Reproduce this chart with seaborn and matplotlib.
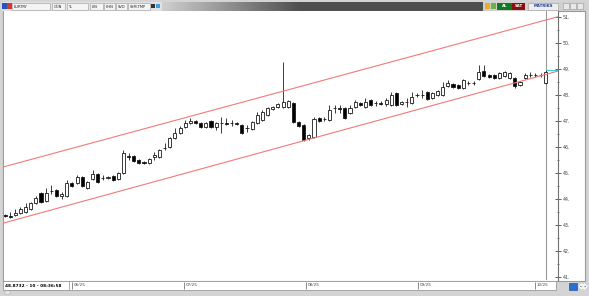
import matplotlib
matplotlib.use("Agg")
import matplotlib.pyplot as plt
from matplotlib.patches import Rectangle, Polygon
import numpy as np
import pandas as pd
import seaborn as sns

sns.set_style("white")
plt.rcParams['font.family'] = ['DejaVu Sans']

# ---------------- data (EURTRY daily candles) ----------------
opens = [43.38, 43.35, 43.38, 43.46, 43.50, 43.62, 43.85, 44.23, 43.92, 44.31,
         44.35, 44.12, 44.12, 44.62, 44.62, 44.85, 44.42, 44.77, 44.96, 44.81,
         44.81, 44.88, 44.77, 45.00, 45.62, 45.65, 45.50, 45.42, 45.38, 45.62,
         45.62, 45.96, 46.00, 46.35, 46.54, 46.77, 46.92, 47.00, 46.92, 46.77,
         47.00, 46.77, 46.92, 46.92, 46.92, 46.92, 46.85, 46.73, 46.69, 46.92,
         47.04, 47.23, 47.46, 47.54, 47.54, 47.54, 47.69, 46.96, 46.85, 46.35,
         46.38, 47.12, 47.08, 47.04, 47.50, 47.50, 47.50, 47.31, 47.54, 47.69,
         47.54, 47.81, 47.69, 47.69, 47.65, 47.62, 48.08, 47.65, 47.73, 47.69,
         48.00, 48.00, 48.12, 47.88, 48.00, 48.00, 48.35, 48.42, 48.38, 48.27,
         48.46, 48.46, 48.62, 48.92, 48.77, 48.77, 48.65, 48.73, 48.65, 48.65,
         48.38, 48.65, 48.77, 48.77, 48.77, 48.46]
closes = [43.35, 43.31, 43.46, 43.62, 43.69, 43.85, 44.04, 43.88, 44.23, 44.31,
          44.12, 44.19, 44.62, 44.50, 44.85, 44.50, 44.65, 44.96, 44.65, 44.81,
          44.85, 44.73, 45.00, 45.77, 45.62, 45.46, 45.38, 45.38, 45.54, 45.69,
          45.88, 45.96, 46.35, 46.54, 46.73, 46.92, 47.00, 46.92, 46.77, 46.92,
          46.77, 46.92, 46.92, 46.88, 46.92, 46.88, 46.54, 46.73, 46.96, 47.23,
          47.35, 47.50, 47.54, 47.65, 47.73, 47.77, 46.96, 46.81, 46.27, 46.46,
          47.08, 47.00, 47.08, 47.42, 47.50, 47.46, 47.12, 47.50, 47.73, 47.62,
          47.73, 47.62, 47.69, 47.65, 47.81, 48.00, 47.62, 47.73, 47.73, 47.92,
          48.00, 48.00, 47.85, 48.08, 48.15, 48.31, 48.46, 48.31, 48.27, 48.58,
          48.46, 48.46, 48.88, 48.73, 48.69, 48.65, 48.85, 48.88, 48.85, 48.35,
          48.50, 48.77, 48.77, 48.77, 48.77, 48.87]
highs = [43.42, 43.50, 43.62, 43.69, 43.85, 43.88, 44.12, 44.27, 44.42, 44.54,
         44.38, 44.27, 44.73, 44.65, 44.92, 44.88, 44.69, 45.12, 45.00, 44.92,
         44.88, 44.92, 45.04, 45.88, 45.77, 45.69, 45.54, 45.46, 45.58, 45.81,
         45.92, 46.15, 46.38, 46.73, 46.81, 47.04, 47.12, 47.04, 46.96, 46.96,
         47.04, 46.96, 47.15, 47.12, 47.04, 46.96, 46.88, 46.85, 47.00, 47.35,
         47.42, 47.54, 47.58, 47.69, 49.27, 47.81, 47.73, 47.00, 46.88, 46.50,
         47.15, 47.15, 47.15, 47.62, 47.62, 47.62, 47.54, 47.62, 47.81, 47.73,
         47.88, 47.85, 47.77, 47.77, 47.88, 48.12, 48.12, 47.77, 47.88, 48.12,
         48.08, 48.19, 48.15, 48.12, 48.19, 48.50, 48.58, 48.46, 48.42, 48.62,
         48.54, 48.54, 49.15, 49.15, 48.81, 48.81, 48.88, 48.92, 48.88, 48.69,
         48.54, 48.85, 48.88, 48.85, 48.85, 48.96]
lows = [43.31, 43.27, 43.35, 43.42, 43.46, 43.58, 43.81, 43.85, 43.88, 44.19,
        44.08, 44.00, 44.08, 44.46, 44.58, 44.46, 44.38, 44.73, 44.62, 44.73,
        44.77, 44.69, 44.73, 44.96, 45.50, 45.42, 45.35, 45.35, 45.35, 45.50,
        45.58, 45.88, 45.96, 46.31, 46.50, 46.73, 46.88, 46.88, 46.73, 46.73,
        46.73, 46.65, 46.54, 46.85, 46.81, 46.85, 46.50, 46.58, 46.65, 46.88,
        47.00, 47.19, 47.42, 47.50, 47.50, 47.50, 46.92, 46.77, 46.23, 46.27,
        46.35, 46.96, 47.00, 47.00, 47.31, 47.31, 47.08, 47.27, 47.50, 47.58,
        47.50, 47.58, 47.58, 47.62, 47.58, 47.58, 47.58, 47.62, 47.54, 47.65,
        47.92, 47.88, 47.81, 47.85, 47.96, 47.96, 48.31, 48.27, 48.23, 48.23,
        48.38, 48.38, 48.58, 48.69, 48.65, 48.62, 48.62, 48.69, 48.62, 48.27,
        48.35, 48.62, 48.69, 48.69, 48.69, 48.42]

# channel trend lines (start / end value over the visible candle range)
channel_x = [-0.19, 107.38]
channel_upper = [45.24, 51.01]
channel_lower = [43.08, 48.92]

y_ticks = [41, 42, 43, 44, 45, 46, 47, 48, 49, 50, 51]
date_ticks = [13.1, 34.8, 58.4, 80.2, 102.9]
date_labels = ["06/25", "07/25", "08/25", "09/25", "10/25"]
last_price = 48.97
status_text = "48.8732 - 10 - 08:36:58"
toolbar_labels = ["EURTRY", "GÜN", "TL", "LIN", "KHN", "SVD", "SYM.TMP"]

df = pd.DataFrame({"open": opens, "close": closes, "high": highs, "low": lows})
df["idx"] = np.arange(len(df))

# ---------------- figure & window chrome ----------------
W, H = 589, 296
fig = plt.figure(figsize=(W / 100, H / 100), dpi=100)
fig.patch.set_facecolor('#d4d4d4')

bg = fig.add_axes([0, 0, 1, 1], zorder=-5)
bg.set_xlim(0, W)
bg.set_ylim(H, 0)
bg.axis('off')

def box(x, y, w, h, fc, ec='none', lw=0.5, z=1):
    bg.add_patch(Rectangle((x, y), w, h, facecolor=fc, edgecolor=ec, linewidth=lw, zorder=z))

# toolbar
box(2, 2, 585, 9, '#e2e2e2')
grad = np.linspace(0, 1, 256)[None, :]
bg.imshow(grad, extent=(162, 300, 11, 2), cmap=matplotlib.colors.LinearSegmentedColormap.from_list(
    'g', ['#cfcfcf', '#4e4e4e']), aspect='auto', zorder=1)
box(300, 2, 183, 9, '#4e4e4e')
box(483, 2, 104, 9, '#d0d0d0')
box(2, 3, 5, 6, '#2a52be', z=2)
box(7, 3, 5, 6, '#d33', z=2)
tool_boxes = [(12, 38), (52, 13), (67, 21), (90, 13), (104, 11), (116, 11), (128, 22)]
for label, (x, w) in zip(toolbar_labels, tool_boxes):
    box(x, 3, w, 6.5, '#f4f4f4', ec='#999', lw=0.4, z=2)
    bg.text(x + 1.5, 6.5, label, fontsize=2.6, va='center', ha='left', color='#222', zorder=3)
box(151, 4, 4, 4, '#333', z=2)
box(156, 4, 4, 4, '#3aa0e0', z=2)
box(485, 3, 5, 6, '#e8b020', z=2)
box(491, 3, 5, 6, '#6ab04c', z=2)
box(497, 3, 15, 6.5, '#0f7a1f', z=2)
bg.text(504.5, 6.4, "AL", fontsize=2.8, color='white', ha='center', va='center', weight='bold', zorder=3)
box(512, 3, 13, 6.5, '#8c1010', z=2)
bg.text(518.5, 6.4, "SAT", fontsize=2.8, color='white', ha='center', va='center', weight='bold', zorder=3)
box(528, 3, 30, 6.5, '#eeeeee', ec='#999', lw=0.4, z=2)
bg.text(543, 6.4, "MATRİKS", fontsize=2.8, color='#1a3d8f', ha='center', va='center', weight='bold', zorder=3)
for bx in (563, 570, 577):
    box(bx, 3, 6, 6, '#e8e8e8', ec='#999', lw=0.4, z=2)

# chart panel
box(3, 11, 582, 270, 'white', ec='#9a9a9a', lw=0.8)
# date bar
box(3, 281, 553, 9, 'white', ec='#9a9a9a', lw=0.6, z=2)
box(3, 281, 66, 9, 'white', ec='#9a9a9a', lw=0.6, z=3)
bg.text(5, 285.7, status_text, fontsize=3.1, weight='bold', color='black', va='center', ha='left', zorder=4)
box(5, 291, 5, 3, '#f0f0f0', ec='#999', lw=0.3, z=2)
box(569, 283, 8, 7, '#2a6fd0', ec='#15408a', lw=0.4, z=2)
bg.add_patch(Polygon([[579, 286.5], [582, 284], [582, 289]], closed=True, facecolor='#15408a', zorder=3))
bg.add_patch(Polygon([[587, 286.5], [584, 284], [584, 289]], closed=True, facecolor='#15408a', zorder=3))

# ---------------- main price axes ----------------
ax = fig.add_axes([4 / W, (H - 280) / H, (558 - 4) / W, (280 - 11) / H])
ax.set_facecolor('white')
ax.set_xlim(channel_x[0], channel_x[1])
ax.set_ylim(40.885, 51.23)

width = 0.6
for _, r in df.iterrows():
    i, o, c, h, l = r['idx'], r['open'], r['close'], r['high'], r['low']
    up = c > o
    ax.vlines(i, l, h, color='#3a3a3a', linewidth=0.7, zorder=2)
    ax.bar(i, max(abs(c - o), 0.015), bottom=min(o, c), width=width,
           facecolor='white' if up else 'black', edgecolor='#1a1a1a', linewidth=0.6, zorder=3)

chan = pd.DataFrame({"x": channel_x * 2, "y": channel_upper + channel_lower,
                     "line": ["upper"] * 2 + ["lower"] * 2})
sns.lineplot(data=chan, x="x", y="y", units="line", estimator=None, color='#f07a7a',
             linewidth=0.8, ax=ax, zorder=4)

cursor = df['idx'].iloc[-1]
ax.axvline(cursor, color='#9a9a9a', linewidth=0.8, zorder=1)
ax.hlines(last_price, cursor, channel_x[1], color='#3cc8d8', linewidth=0.8, zorder=5)

ax.yaxis.tick_right()
ax.set_yticks(y_ticks)
ax.set_yticklabels([f"{v}." for v in y_ticks])
ax.set_yticks([v + 0.5 for v in y_ticks[:-1]], minor=True)
ax.tick_params(axis='y', which='major', direction='inout', length=4, width=0.6,
               colors='#444', labelsize=3.4, pad=1.5, right=True, left=False)
ax.tick_params(axis='y', which='minor', direction='inout', length=2, width=0.5,
               colors='#444', right=True, left=False)
ax.set_xticks([])
ax.set_xlabel("")
ax.set_ylabel("")
for s in ('left', 'top', 'bottom'):
    ax.spines[s].set_visible(False)
ax.spines['right'].set_color('#707070')
ax.spines['right'].set_linewidth(0.8)
if ax.get_legend():
    ax.get_legend().remove()

# ---------------- date bar ----------------
axd = fig.add_axes([4 / W, (H - 290) / H, (558 - 4) / W, 9 / H], sharex=ax)
axd.patch.set_alpha(0)
axd.set_ylim(0, 1)
axd.axis('off')
axd.vlines(date_ticks, 0.1, 0.9, color='#777', linewidth=0.6)
for p, lab in zip(date_ticks, date_labels):
    axd.text(p + 0.3, 0.5, lab, fontsize=3.0, va='center', ha='left', color='#444')

fig.savefig("out.png", dpi=100, facecolor=fig.get_facecolor())
